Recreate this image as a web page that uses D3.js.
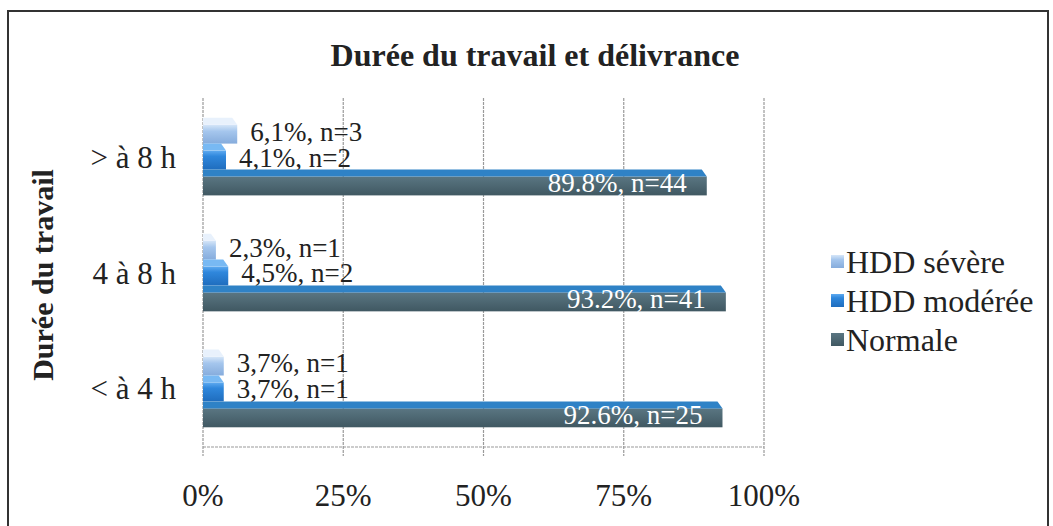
<!DOCTYPE html>
<html>
<head>
<meta charset="utf-8">
<script src="https://cdn.jsdelivr.net/npm/d3@7"></script>
<style>
  body { margin: 0; background: #fff; }
  svg text { font-family: "Liberation Serif", "Times New Roman", serif; }
</style>
</head>
<body>
<div id="chart"></div>
<script>
var categories = ["> à 8 h", "4 à 8 h", "< à 4 h"];
var series = ["HDD sévère", "HDD modérée", "Normale"];
var severe = [6.1, 2.3, 3.7];
var severeN = [3, 1, 1];
var moderate = [4.1, 4.5, 3.7];
var moderateN = [2, 2, 1];
var normal = [89.8, 93.2, 92.6];
var normalN = [44, 41, 25];
var tickValues = [0, 25, 50, 75, 100];
var tickLabels = ["0%", "25%", "50%", "75%", "100%"];

var width = 1053, height = 526;

var svg = d3.select("#chart").append("svg")
    .attr("width", width)
    .attr("height", height);

// gradients for the bevelled bars
var defs = svg.append("defs");
var grads = {
    "HDD sévère": [["0%", "#d6e6f8"], ["35%", "#a5c6ed"], ["100%", "#86acdc"]],
    "HDD modérée": [["0%", "#5eaaf0"], ["30%", "#2f87dc"], ["100%", "#1f6dbe"]],
    "Normale": [["0%", "#5a7682"], ["100%", "#405862"]]
};
series.forEach(function(s, i) {
    var g = defs.append("linearGradient").attr("id", "g" + i)
        .attr("x1", 0).attr("y1", 0).attr("x2", 0).attr("y2", 1);
    grads[s].forEach(function(st) {
        g.append("stop").attr("offset", st[0]).attr("stop-color", st[1]);
    });
});
var topColor = { "HDD sévère": "#e8f1fc", "HDD modérée": "#78b9f3", "Normale": "#2f82c6" };

// outer frame
svg.append("rect")
    .attr("x", 8).attr("y", 11)
    .attr("width", 1040).attr("height", 530)
    .attr("fill", "none")
    .attr("stroke", "#333")
    .attr("stroke-width", 2);

var x = d3.scaleLinear().domain([0, 100]).range([203, 764]);
var y = d3.scaleBand().domain(categories).range([98, 447])
    .paddingInner(0.33).paddingOuter(0.17);
var ySub = d3.scaleBand().domain(series).range([0, y.bandwidth()]);

// gridlines
svg.append("g").selectAll("line")
    .data(tickValues)
    .enter().append("line")
    .attr("x1", function(d) { return x(d); })
    .attr("x2", function(d) { return x(d); })
    .attr("y1", 98).attr("y2", 456)
    .attr("stroke", "#9a9a9a")
    .attr("stroke-width", 1.2)
    .attr("stroke-dasharray", "3,1");

svg.append("line")
    .attr("x1", x(0)).attr("x2", x(100))
    .attr("y1", 447).attr("y2", 447)
    .attr("stroke", "#9a9a9a")
    .attr("stroke-width", 1.2)
    .attr("stroke-dasharray", "3,1");

// x tick labels
svg.append("g").selectAll("text")
    .data(tickValues)
    .enter().append("text")
    .attr("x", function(d) { return x(d); })
    .attr("y", 506)
    .attr("text-anchor", "middle")
    .style("font-size", "31px")
    .attr("fill", "#222")
    .text(function(d, i) { return tickLabels[i]; });

// category labels
svg.append("g").selectAll("text")
    .data(categories)
    .enter().append("text")
    .attr("x", 176)
    .attr("y", function(d) { return y(d) + y.bandwidth() / 2 + 11; })
    .attr("text-anchor", "end")
    .style("font-size", "31px")
    .attr("fill", "#222")
    .text(function(d) { return d; });

// rows of bars
var rows = [];
categories.forEach(function(c, i) {
    rows.push({ cat: c, s: "HDD sévère", v: severe[i], n: severeN[i] });
    rows.push({ cat: c, s: "HDD modérée", v: moderate[i], n: moderateN[i] });
    rows.push({ cat: c, s: "Normale", v: normal[i], n: normalN[i] });
});

var depth = 7;
var bars = svg.append("g").selectAll("g")
    .data(rows)
    .enter().append("g");

bars.append("rect")
    .attr("x", x(0))
    .attr("y", function(d) { return y(d.cat) + ySub(d.s) + depth; })
    .attr("width", function(d) { return x(d.v) - x(0); })
    .attr("height", ySub.bandwidth() - depth)
    .attr("fill", function(d) { return "url(#g" + series.indexOf(d.s) + ")"; });

bars.append("path")
    .attr("d", function(d) {
        var y0 = y(d.cat) + ySub(d.s), x0 = x(0), x1 = x(d.v);
        return "M" + x0 + "," + y0 + "L" + (x1 - 5) + "," + y0 +
            "L" + x1 + "," + (y0 + depth) + "L" + x0 + "," + (y0 + depth) + "Z";
    })
    .attr("fill", function(d) { return topColor[d.s]; });

bars.append("text")
    .attr("x", function(d) { return d.s === "Normale" ? x(d.v) - 20 : x(d.v) + 13; })
    .attr("y", function(d) { return y(d.cat) + ySub(d.s) + ySub.bandwidth() - 3; })
    .attr("text-anchor", function(d) { return d.s === "Normale" ? "end" : "start"; })
    .style("font-size", "27px")
    .attr("fill", function(d) { return d.s === "Normale" ? "#fff" : "#222"; })
    .text(function(d) {
        var p = d.s === "Normale" ? d.v.toFixed(1) : d.v.toFixed(1).replace(".", ",");
        return p + "%, n=" + d.n;
    });

// title
svg.append("text")
    .attr("x", 535).attr("y", 66)
    .attr("text-anchor", "middle")
    .style("font-size", "32px")
    .style("font-weight", "bold")
    .attr("fill", "#222")
    .text("Durée du travail et délivrance");

// y axis title
svg.append("text")
    .attr("transform", "translate(53,275) rotate(-90)")
    .attr("text-anchor", "middle")
    .style("font-size", "30px")
    .style("font-weight", "bold")
    .attr("fill", "#222")
    .text("Durée du travail");

// legend
var legend = svg.append("g").selectAll("g")
    .data(series)
    .enter().append("g")
    .attr("transform", function(d, i) { return "translate(831," + (262 + i * 39) + ")"; });

legend.append("rect")
    .attr("x", 0).attr("y", -7)
    .attr("width", 13).attr("height", 13)
    .attr("fill", function(d, i) { return "url(#g" + i + ")"; });

legend.append("text")
    .attr("x", 15).attr("y", 11)
    .style("font-size", "32px")
    .attr("fill", "#222")
    .text(function(d) { return d; });
</script>
</body>
</html>
